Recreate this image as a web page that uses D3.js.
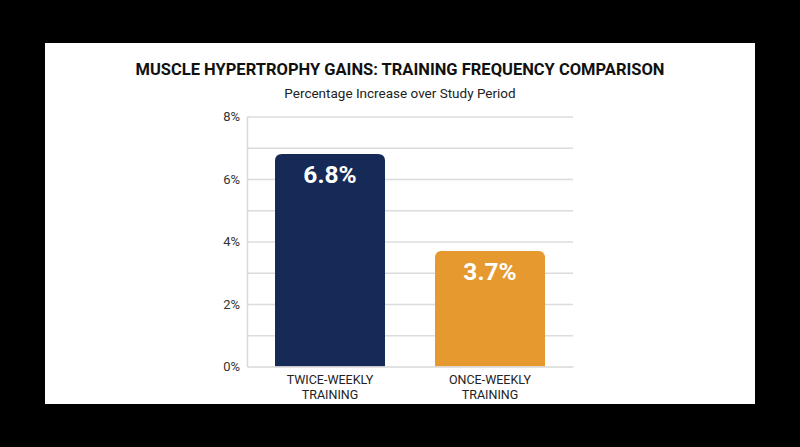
<!DOCTYPE html>
<html lang="en">
    <head>
        <meta charset="utf-8">
        <title>Training Frequency</title>
        <script src="https://d3js.org/d3.v7.min.js"></script>
        <style type="text/css">
            body {
                margin: 0;
                background: #000;
            }

            .axis path,
            .axis line {
                stroke: #d9d9d9;
            }

            .axis text {
                font-family: Roboto, sans-serif;
                font-size: 13px;
                fill: #333;
            }

            .grid line {
                stroke: #dcdcdc;
                stroke-width: 1.5px;
            }

            .grid path {
                display: none;
            }
        </style>
    </head>
    <body>
        <script type="text/javascript">

            //data
            const categories = ["TWICE-WEEKLY TRAINING", "ONCE-WEEKLY TRAINING"];
            const values = [6.8, 3.7];
            const colors = ["#162a57", "#e5992f"];
            const yTicks = [0, 2, 4, 6, 8];
            const gridTicks = [1, 2, 3, 4, 5, 6, 7, 8];

            const w = 800;
            const h = 447;
            const plotLeft = 247, plotRight = 573, plotTop = 116.5, plotBottom = 366.5;

            const svg = d3.select("body")
                    .append("svg")
                    .attr("width", w)
                    .attr("height", h)
                    .style("display", "block");

            //card
            svg.append("rect")
                .attr("x", 45)
                .attr("y", 43)
                .attr("width", 710)
                .attr("height", 361)
                .attr("fill", "#fff");

            //titles
            svg.append("text")
                .attr("x", 400)
                .attr("y", 75)
                .attr("text-anchor", "middle")
                .style("font-family", "Roboto, sans-serif")
                .style("font-weight", "700")
                .style("font-size", "16.5px")
                .style("fill", "#111")
                .text("MUSCLE HYPERTROPHY GAINS: TRAINING FREQUENCY COMPARISON");

            svg.append("text")
                .attr("x", 400)
                .attr("y", 98)
                .attr("text-anchor", "middle")
                .style("font-family", "Roboto, sans-serif")
                .style("font-size", "13.5px")
                .style("fill", "#222")
                .text("Percentage Increase over Study Period");

            //scales
            const xScale = d3.scaleBand()
                             .domain(categories)
                             .range([plotLeft, plotRight])
                             .paddingInner(0.3125)
                             .paddingOuter(0.175);

            const yScale = d3.scaleLinear()
                             .domain([0, 8])
                             .range([plotBottom, plotTop]);

            //gridlines
            svg.append("g")
               .attr("class", "grid")
               .attr("transform", "translate(" + plotLeft + ",0)")
               .call(d3.axisLeft(yScale).tickValues(gridTicks).tickSize(-(plotRight - plotLeft)).tickFormat(""));

            //left axis
            const leftAxis = d3.axisLeft()
                             .scale(yScale)
                             .tickValues(yTicks)
                             .tickSize(0)
                             .tickPadding(7)
                             .tickFormat(d => d + "%");

            svg.append("g")
               .attr("class", "axis")
               .attr("transform", "translate(" + plotLeft + ",0)")
               .call(leftAxis)
               .select(".domain").attr("stroke-width", 1.5);

            //bars with rounded tops
            const r = 7;
            const barPath = (x, y, bw, y0) =>
                "M" + x + "," + y0 +
                "V" + (y + r) +
                "Q" + x + "," + y + " " + (x + r) + "," + y +
                "H" + (x + bw - r) +
                "Q" + (x + bw) + "," + y + " " + (x + bw) + "," + (y + r) +
                "V" + y0 + "Z";

            svg.selectAll(".bar")
                .data(values)
                .enter()
                .append("path")
                .attr("class", "bar")
                .attr("fill", (d, i) => colors[i])
                .attr("d", (d, i) => barPath(xScale(categories[i]), yScale(d), xScale.bandwidth(), yScale(0)));

            //value labels
            svg.selectAll(".val")
                .data(values)
                .enter()
                .append("text")
                .attr("class", "val")
                .attr("x", (d, i) => xScale(categories[i]) + xScale.bandwidth() / 2)
                .attr("y", d => yScale(d) + 29)
                .attr("text-anchor", "middle")
                .style("font-family", "Roboto, sans-serif")
                .style("font-weight", "700")
                .style("font-size", "24.5px")
                .style("fill", "#fff")
                .text(d => d + "%");

            //bottom axis
            const bottomAxis = d3.axisBottom()
                                .scale(xScale)
                                .tickSize(0)
                                .tickFormat("");

            svg.append("g")
                .attr("class", "axis")
                .attr("transform", "translate(0," + plotBottom + ")")
                .call(bottomAxis)
                .select(".domain").attr("stroke-width", 1.5);

            //category labels on two lines
            categories.forEach(c => {
                const words = c.split(" ");
                const t = svg.append("text")
                    .attr("text-anchor", "middle")
                    .style("font-family", "Roboto, sans-serif")
                    .style("font-size", "12.5px")
                    .style("fill", "#222");
                words.forEach((wd, j) => {
                    t.append("tspan")
                        .attr("x", xScale(c) + xScale.bandwidth() / 2)
                        .attr("y", 384 + j * 14.5)
                        .text(wd);
                });
            });

        </script>
    </body>
</html>
